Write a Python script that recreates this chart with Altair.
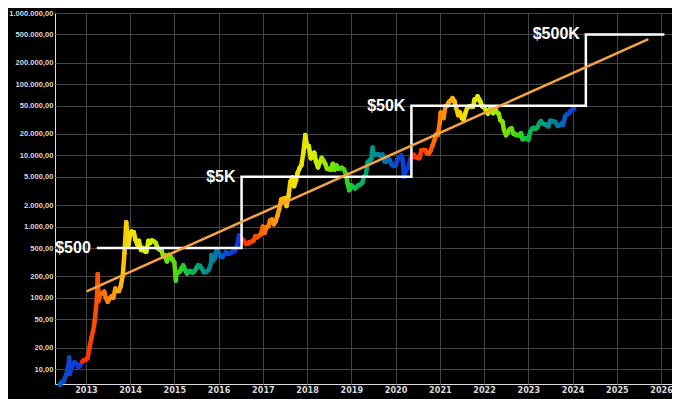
import altair as alt
import pandas as pd

# Semi-monthly BTC prices (1st and 15th of each month)
p2012 = [6.0, 6.5, 6.7, 7.7, 9.4, 13.0, 10.1, 11.8, 12.4, 11.8, 10.6, 11.2, 12.6, 13.3]  # from June
p2013 = [13.5, 14.2, 20.4, 27, 34, 47, 93, 90, 116, 115, 122, 100, 88, 97, 105, 100, 135, 125, 125, 145, 205, 420, 1000, 800]
p2014 = [750, 850, 830, 650, 560, 630, 470, 500, 450, 445, 630, 590, 640, 620, 590, 500, 475, 475, 385, 395, 325, 400, 380, 345]
p2015 = [315, 210, 225, 235, 260, 285, 245, 220, 235, 237, 225, 235, 260, 285, 280, 260, 230, 230, 238, 255, 315, 330, 360, 455]
p2016 = [433, 385, 375, 405, 435, 415, 417, 430, 450, 455, 535, 690, 675, 665, 620, 570, 575, 607, 615, 640, 730, 710, 750, 780]
p2017 = [1000, 820, 985, 1010, 1220, 1250, 1080, 1180, 1420, 1750, 2400, 2450, 2500, 1950, 2700, 4200, 4900, 3700, 4400, 5700, 6700, 7300, 10900, 17700]
p2018 = [13500, 13600, 9100, 10200, 10900, 8200, 6800, 8000, 9200, 8500, 7500, 6500, 6400, 6300, 7600, 6300, 7200, 6500, 6600, 6700, 6350, 5600, 4100, 3250]
p2019 = [3800, 3600, 3450, 3600, 3800, 3900, 4100, 5000, 5300, 8000, 8550, 8800, 10600, 10200, 10400, 10300, 9700, 10300, 8300, 8150, 9200, 8500, 7400, 7100]
p2020 = [7200, 8800, 9350, 10000, 8550, 5400, 6400, 6650, 8800, 9300, 10200, 9450, 9230, 9150, 11800, 11900, 11900, 10800, 10600, 11500, 13800, 16000, 19700, 19400]
p2021 = [29400, 36800, 33500, 48700, 49600, 56000, 58900, 63200, 57800, 46400, 36700, 40100, 33500, 31800, 39900, 47000, 48800, 48100, 48200, 61500, 61300, 63600, 57200, 48900]
p2022 = [47700, 43100, 38700, 44500, 44400, 39300, 46300, 40500, 38500, 31300, 29800, 22500, 19300, 20800, 23300, 24100, 20100, 19700, 19300, 19100, 20500, 16900, 17100, 17400]
p2023 = [16600, 20900, 23700, 24300, 23600, 24400, 28400, 30300, 28000, 27200, 27000, 25600, 30600, 30300, 29700, 29200, 26000, 26600, 27900, 27000, 35400, 37900, 38700, 42000]
p2024 = [44200, 45500]

# extra points at spikes / dips
extra_dates = ["2012-08-16", "2012-08-20", "2013-04-09", "2013-11-30", "2013-12-18", "2015-01-14",
               "2015-11-04", "2016-06-17", "2017-12-17", "2019-06-26", "2020-03-12", "2021-04-14",
               "2021-11-08", "2021-01-08"]
extra_prices = [14.5, 8.5, 215, 1150, 560, 175, 400, 750, 19300, 12900, 5000, 63500, 67500, 40000]

halvings = ["2009-01-03", "2012-11-28", "2016-07-09", "2020-05-11", "2024-04-20"]

step_labels = ["$500", "$5K", "$50K", "$500K"]
step_levels = [500, 5000, 50000, 500000]
step_starts = ["2013-04-01", "2016-07-09", "2020-05-11", "2024-04-20"]
step_end = "2026-01-28"

trend_dates = ["2013-01-08", "2025-09-18"]
trend_prices = [123, 430000]

y_ticks = [10, 20, 50, 100, 200, 500, 1000, 2000, 5000, 10000, 20000, 50000,
           100000, 200000, 500000, 1000000]
x_years = list(range(2013, 2027))

# ---- build tables
rows = []
for year, vals in [(2012, p2012), (2013, p2013), (2014, p2014), (2015, p2015), (2016, p2016),
                   (2017, p2017), (2018, p2018), (2019, p2019), (2020, p2020), (2021, p2021),
                   (2022, p2022), (2023, p2023), (2024, p2024)]:
    m0 = 6 if year == 2012 else 1
    for i, v in enumerate(vals):
        rows.append((pd.Timestamp(year, m0 + i // 2, 1 if i % 2 == 0 else 15), v))
for d, v in zip(extra_dates, extra_prices):
    rows.append((pd.Timestamp(d), v))
df = pd.DataFrame(rows, columns=["t", "p"]).sort_values("t").reset_index(drop=True)

hv = [pd.Timestamp(h) for h in halvings]
def phase(t):
    for a, b in zip(hv[:-1], hv[1:]):
        if a <= t < b:
            return (t - a) / (b - a)
    return 1.0
df["phase"] = df["t"].apply(phase)

seg = df.copy()
seg["t2"] = seg["t"].shift(-1)
seg["p2"] = seg["p"].shift(-1)
seg = seg.dropna()

pts = []
o = 0
for i, lv in enumerate(step_levels):
    pts.append((pd.Timestamp(step_starts[i]), lv, o)); o += 1
    end = step_starts[i + 1] if i + 1 < len(step_starts) else step_end
    pts.append((pd.Timestamp(end), lv, o)); o += 1
steps = pd.DataFrame(pts, columns=["t", "p", "o"])
labels = pd.DataFrame({"t": pd.to_datetime(step_starts), "p": step_levels, "lab": step_labels})
trend = pd.DataFrame({"t": pd.to_datetime(trend_dates), "p": trend_prices})

x_scale = alt.Scale(domain=[alt.DateTime(year=2012, month=4, date=21),
                            alt.DateTime(year=2026, month=4, date=1)])
y_scale = alt.Scale(type="log", domain=[6.16, 1000000], nice=False)

x_axis = alt.Axis(values=[alt.DateTime(year=y, month=1, date=1) for y in x_years], format="%Y",
                  grid=True, gridColor="#454545", gridWidth=1, domain=False, ticks=False,
                  labelColor="#d8d8d8", labelFont="DejaVu Sans Condensed", labelFontSize=9,
                  labelFontWeight="bold", labelPadding=1, title=None)
y_axis = alt.Axis(values=y_ticks, format=",.2f", grid=True, gridColor="#454545", gridWidth=1,
                  domain=False, ticks=False, labelColor="#d8d8d8", labelFont="Liberation Sans",
                  labelFontSize=7.6, labelFontWeight="bold", labelPadding=2, title=None)

color_scale = alt.Scale(
    domain=[0, 0.1, 0.2, 0.3, 0.42, 0.52, 0.62, 0.72, 0.82, 0.9, 1],
    range=["#ff1e00", "#ff5500", "#ff9a10", "#f4e000", "#d8f000", "#80e400", "#30d818",
           "#18a860", "#0e7f96", "#1448d0", "#1434e8"])

X = alt.X("t:T", scale=x_scale, axis=x_axis)
Y = alt.Y("p:Q", scale=y_scale, axis=y_axis)

segs = alt.Chart(seg).mark_rule(strokeWidth=4.5, strokeCap="round").encode(
    x=X, y=Y, x2=alt.X2("t2"), y2=alt.Y2("p2"),
    color=alt.Color("phase:Q", scale=color_scale, legend=None))
dots = alt.Chart(df).mark_circle(size=18, opacity=1).encode(
    x="t:T", y="p:Q", color=alt.Color("phase:Q", scale=color_scale, legend=None))
step_line = alt.Chart(steps).mark_line(color="white", strokeWidth=2.5, strokeJoin="miter").encode(
    x="t:T", y="p:Q", order="o:Q")
trend_line = alt.Chart(trend).mark_line(color="#f7a440", strokeWidth=2.5).encode(x="t:T", y="p:Q")
texts = alt.Chart(labels).mark_text(align="right", baseline="middle", dx=-6, fontSize=16,
                                    fontWeight="bold", font="Liberation Sans", color="white").encode(
    x="t:T", y="p:Q", text="lab:N")

chart = alt.layer(segs, dots, step_line, trend_line, texts).properties(
    width=617, height=371,
    autosize=alt.AutoSizeParams(type="none"),
    padding={"left": 47, "top": 5, "right": 0, "bottom": 15},
    background="black",
).configure_view(strokeWidth=0).configure(
    locale={"number": {"decimal": ",", "thousands": ".", "grouping": [3], "currency": ["", " €"]}}
)

chart.save("out.html", embed_options={"renderer": "svg", "actions": False})
